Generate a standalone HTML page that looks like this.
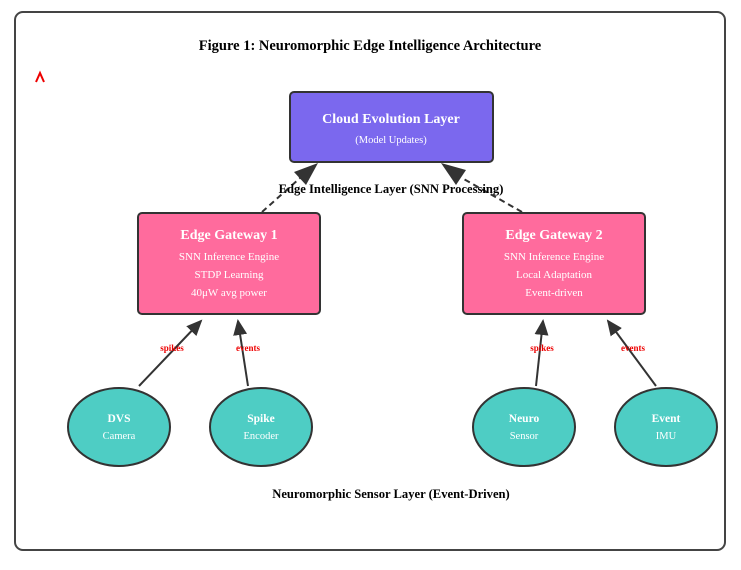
<!DOCTYPE html>
<html><head><meta charset="utf-8"><style>
body{margin:0;background:#fff;width:741px;height:565px;overflow:hidden}
</style></head><body>
<svg width="741" height="565" xmlns="http://www.w3.org/2000/svg" font-family="Liberation Serif, serif">
<defs>
<marker id="ah" markerWidth="16" markerHeight="16" refX="14" refY="7" orient="auto" markerUnits="userSpaceOnUse" viewBox="0 0 16 14"><path d="M0,0 L16,7 L0,14 z" fill="#333"/></marker>
</defs>
<rect x="15" y="12" width="710" height="538" rx="8" fill="#fff" stroke="#444" stroke-width="2"/>
<text x="370" y="50" text-anchor="middle" font-size="14.5" font-weight="bold">Figure 1: Neuromorphic Edge Intelligence Architecture</text>
<path d="M36,82 L40,73 L44,82" fill="none" stroke="#e00" stroke-width="2"/>
<rect x="290" y="92" width="203" height="70" rx="4" fill="#7b68ee" stroke="#333" stroke-width="2"/>
<text x="391" y="123" text-anchor="middle" font-size="14" font-weight="bold" fill="#fff">Cloud Evolution Layer</text>
<text x="391" y="143" text-anchor="middle" font-size="10.5" fill="#fff">(Model Updates)</text>
<line x1="262" y1="212" x2="300" y2="178" stroke="#333" stroke-width="2" stroke-dasharray="6,4"/>
<path d="M318,163 L294,172 L306,185 z" fill="#333"/>
<line x1="522" y1="212" x2="462" y2="178" stroke="#333" stroke-width="2" stroke-dasharray="6,4"/>
<path d="M441,163 L466,170 L456,185 z" fill="#333"/>
<text x="391" y="193" text-anchor="middle" font-size="12.6" font-weight="bold">Edge Intelligence Layer (SNN Processing)</text>
<rect x="138" y="213" width="182" height="101" rx="4" fill="#ff6b9d" stroke="#333" stroke-width="2"/>
<text x="229" y="239" text-anchor="middle" font-size="14" font-weight="bold" fill="#fff">Edge Gateway 1</text>
<text x="229" y="260" text-anchor="middle" font-size="11" fill="#fff">SNN Inference Engine</text>
<text x="229" y="278" text-anchor="middle" font-size="11" fill="#fff">STDP Learning</text>
<text x="229" y="296" text-anchor="middle" font-size="11" fill="#fff">40μW avg power</text>
<rect x="463" y="213" width="182" height="101" rx="4" fill="#ff6b9d" stroke="#333" stroke-width="2"/>
<text x="554" y="239" text-anchor="middle" font-size="14" font-weight="bold" fill="#fff">Edge Gateway 2</text>
<text x="554" y="260" text-anchor="middle" font-size="11" fill="#fff">SNN Inference Engine</text>
<text x="554" y="278" text-anchor="middle" font-size="11" fill="#fff">Local Adaptation</text>
<text x="554" y="296" text-anchor="middle" font-size="11" fill="#fff">Event-driven</text>
<g stroke="#333" stroke-width="2" marker-end="url(#ah)">
<line x1="139" y1="386" x2="201" y2="321"/>
<line x1="248" y1="386" x2="238" y2="321"/>
<line x1="536" y1="386" x2="543" y2="321"/>
<line x1="656" y1="386" x2="608" y2="321"/>
</g>
<g font-size="9" font-weight="bold" fill="#e00" text-anchor="middle">
<text x="172" y="351">spikes</text><text x="248" y="351">events</text>
<text x="542" y="351">spikes</text><text x="633" y="351">events</text>
</g>
<g fill="#4ecdc4" stroke="#333" stroke-width="2">
<ellipse cx="119" cy="427" rx="51" ry="39"/>
<ellipse cx="261" cy="427" rx="51" ry="39"/>
<ellipse cx="524" cy="427" rx="51" ry="39"/>
<ellipse cx="666" cy="427" rx="51" ry="39"/>
</g>
<g fill="#fff" text-anchor="middle">
<text x="119" y="422" font-size="11.5" font-weight="bold">DVS</text><text x="119" y="439" font-size="10.5">Camera</text>
<text x="261" y="422" font-size="11.5" font-weight="bold">Spike</text><text x="261" y="439" font-size="10.5">Encoder</text>
<text x="524" y="422" font-size="11.5" font-weight="bold">Neuro</text><text x="524" y="439" font-size="10.5">Sensor</text>
<text x="666" y="422" font-size="11.5" font-weight="bold">Event</text><text x="666" y="439" font-size="10.5">IMU</text>
</g>
<text x="391" y="498" text-anchor="middle" font-size="12.6" font-weight="bold">Neuromorphic Sensor Layer (Event-Driven)</text>
</svg>
</body></html>
